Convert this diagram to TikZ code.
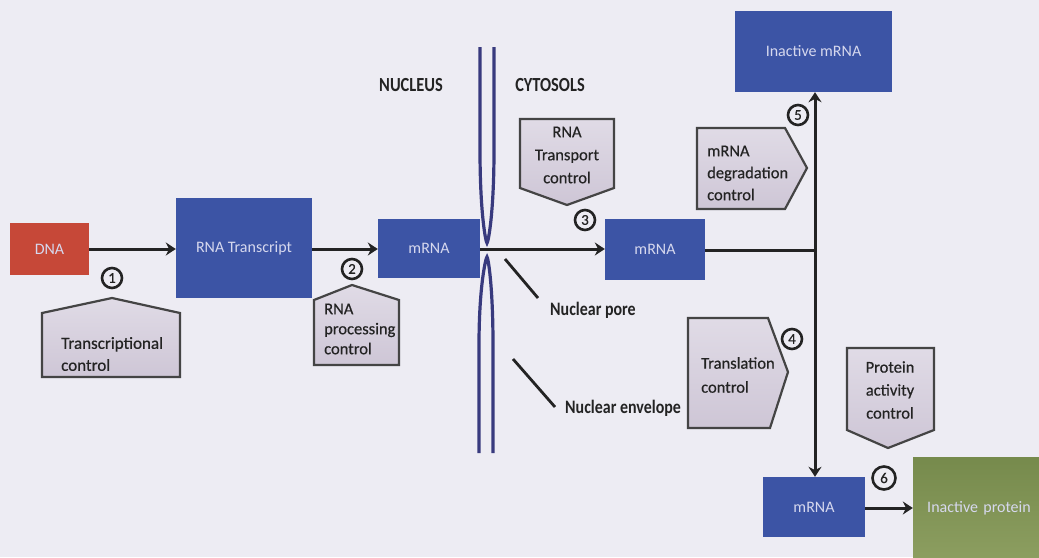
\documentclass[tikz,border=0pt]{standalone}
\usepackage{fontspec}
\setmainfont{Carlito}
\newfontfamily\ctrlfont{Carlito}[FakeBold=0.5]
\usetikzlibrary{arrows.meta}
\definecolor{bg}{RGB}{237,236,243}
\definecolor{boxblue}{RGB}{60,84,165}
\definecolor{dnared}{RGB}{198,72,56}
\definecolor{ctrlfill}{RGB}{206,198,214}
\definecolor{ctrlfilltop}{RGB}{224,219,230}
\definecolor{envcol}{RGB}{56,58,126}
\definecolor{boxtxt}{RGB}{214,216,238}
\definecolor{greentop}{RGB}{118,138,76}
\definecolor{greenbot}{RGB}{140,158,96}
\definecolor{ink}{RGB}{35,35,35}
\begin{document}
\begin{tikzpicture}[x=1pt,y=-1pt,
  box/.style={fill=boxblue, text=boxtxt, inner sep=0pt, font=\fontsize{16}{19}\selectfont},
  ctrlshape/.style={draw=ink!85, line width=2.2pt, top color=ctrlfilltop, bottom color=ctrlfill, line join=miter},
  ctrltxt/.style={text=ink, inner sep=0pt, font=\ctrlfont\fontsize{16.5}{22}\selectfont},
  num/.style={circle, draw=ink, line width=2.6pt, minimum size=20pt, inner sep=0pt, text=ink, font=\ctrlfont\fontsize{15}{15}\selectfont},
  arr/.style={draw=ink, line width=3pt, -{Stealth[length=10pt,width=13pt]}},
  plain/.style={draw=ink, line width=3pt},
  envelope/.style={draw=envcol, line width=3.2pt},
  pointer/.style={draw=ink, line width=2.8pt},
  region/.style={text=ink, inner sep=0pt, font=\fontsize{20}{22}\selectfont\bfseries, xscale=0.82},
  lbl/.style={text=ink, inner sep=0pt, font=\fontsize{19}{22}\selectfont\bfseries, xscale=0.84}
]
\path[use as bounding box, clip] (0,0) rectangle (1039,557);
\fill[bg] (0,0) rectangle (1039,557);

% nuclear envelope
\draw[envelope] (480,47) -- (480,150) .. controls (480,215) and (486,243) .. (487,243)
  .. controls (488,243) and (494,215) .. (494,150) -- (494,47);
\draw[envelope] (479,453) -- (479,345) .. controls (479,285) and (486,257) .. (487,257)
  .. controls (488,257) and (493,285) .. (493,345) -- (493,453);

% region labels
\node[region] (nucleus) at (411,85) {NUCLEUS};
\node[region] (cytosol) at (550,85) {CYTOSOLS};

% boxes
\node[box, fill=dnared, minimum width=79pt, minimum height=52pt] (dna) at (49.5,249) {DNA};
\node[box, minimum width=136pt, minimum height=100pt] (rt) at (244,248) {RNA Transcript};
\node[box, minimum width=102pt, minimum height=59pt] (m1) at (429,248.5) {mRNA};
\node[box, minimum width=100pt, minimum height=61pt] (m2) at (655,249.5) {mRNA};
\node[box, minimum width=157pt, minimum height=81pt] (im) at (813.5,51.5) {Inactive mRNA};
\node[box, minimum width=102pt, minimum height=60pt] (m3) at (814,507) {mRNA};
\node[box, top color=greentop, bottom color=greenbot, minimum width=132pt, minimum height=102pt, text width=132pt, align=center] (ip) at (979,508) {Inactive protein};

% connectors
\coordinate (j) at (815,250);
\draw[arr] (dna.east) -- (rt.west |- dna.east);
\draw[arr] (rt.east |- dna.east) -- (m1.west |- dna.east);
\draw[arr] (m1.east |- dna.east) -- (m2.west |- dna.east);
\draw[plain] (m2.east |- j) -- (j);
\draw[arr] (j) -- (im.south -| j);
\draw[arr] (j) -- (m3.north -| j);
\draw[arr] (m3.east |- 0,508) -- (ip.west |- 0,508);

% control shapes
\draw[ctrlshape] (42,313) -- (112,298) -- (180,313) -- (180,377) -- (42,377) -- cycle;
\node[ctrltxt, anchor=west, align=left, font=\ctrlfont\fontsize{17}{22}\selectfont] (c1) at (61,354) {Transcriptional\\control};
\draw[ctrlshape] (314,300) -- (352,285) -- (399,300) -- (399,365) -- (314,365) -- cycle;
\node[ctrltxt, anchor=west, align=left, font=\ctrlfont\fontsize{16.5}{20}\selectfont] (c2) at (324,329) {RNA\\processing\\control};
\draw[ctrlshape] (520,119) -- (614,119) -- (614,188) -- (567,205) -- (520,188) -- cycle;
\node[ctrltxt, align=center, font=\ctrlfont\fontsize{16.5}{23}\selectfont] (c3) at (567,155) {RNA\\Transport\\control};
\draw[ctrlshape] (697,128) -- (785,128) -- (807,168) -- (785,209) -- (697,209) -- cycle;
\node[ctrltxt, anchor=west, align=left, font=\ctrlfont\fontsize{16.5}{22}\selectfont] (c5) at (707,173) {mRNA\\degradation\\control};
\draw[ctrlshape] (688,318) -- (768,318) -- (788,372) -- (770,428) -- (688,428) -- cycle;
\node[ctrltxt, anchor=west, align=left, font=\ctrlfont\fontsize{16.5}{24}\selectfont] (c4) at (701,375) {Translation\\control};
\draw[ctrlshape] (847,348) -- (934,348) -- (934,430) -- (888,448) -- (847,430) -- cycle;
\node[ctrltxt, align=center, font=\ctrlfont\fontsize{16.5}{23}\selectfont] (c6) at (890,390) {Protein\\activity\\control};

% numbered circles
\node[num] (n1) at (112,278) {1};
\node[num] (n2) at (352,269) {2};
\node[num] (n3) at (585,220) {3};
\node[num] (n4) at (792,339) {4};
\node[num] (n5) at (798,115) {5};
\node[num, minimum size=23pt] (n6) at (884,478) {6};

% pore and envelope labels
\node[lbl, anchor=west] (pore) at (550,310) {Nuclear pore};
\node[lbl, anchor=west] (env) at (565,408) {Nuclear envelope};
\coordinate (p1) at (505,259);
\coordinate (p2) at (538,298);
\coordinate (e1) at (513,359);
\coordinate (e2) at (555,407);
\draw[pointer] (p1) -- (p2);
\draw[pointer] (e1) -- (e2);
\end{tikzpicture}
\end{document}
